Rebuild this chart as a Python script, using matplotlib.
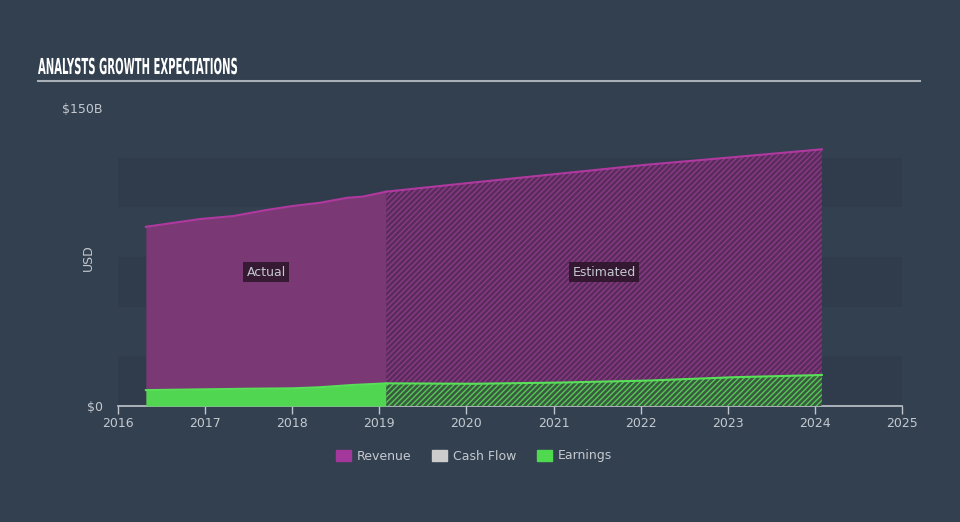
import matplotlib
matplotlib.use("Agg")
import matplotlib.pyplot as plt
from matplotlib.patches import Patch, PathPatch
from matplotlib.lines import Line2D
from matplotlib.textpath import TextPath
from matplotlib.font_manager import FontProperties
from matplotlib.transforms import Affine2D, IdentityTransform

# revenue, $B
rev_actual_x = [2016.32, 2016.94, 2017.32, 2017.71, 2018.01, 2018.32, 2018.63, 2018.81, 2019.08]
rev_actual_y = [90.2, 94.1, 95.6, 98.7, 100.7, 102.3, 104.8, 105.4, 107.9]
rev_est_x = [2019.08, 2020.08, 2021.08, 2022.08, 2023.08, 2024.08]
rev_est_y = [107.9, 112.5, 117.0, 121.5, 125.3, 129.2]

# earnings, $B
earn_actual_x = [2016.32, 2017.0, 2017.5, 2018.0, 2018.3, 2018.7, 2019.08]
earn_actual_y = [8.0, 8.4, 8.7, 8.9, 9.4, 10.6, 11.4]
earn_est_x = [2019.08, 2020.08, 2021.08, 2022.08, 2023.08, 2024.08]
earn_est_y = [11.4, 11.2, 11.8, 12.8, 14.5, 15.6]

years = list(range(2016, 2026))

bg = "#334050"
band = "#303c4b"
txt = "#c4c9cf"

plt.rcParams["hatch.linewidth"] = 1.0

fig = plt.figure(figsize=(9.6, 5.22), dpi=100, facecolor=bg)
ax = fig.add_axes([118 / 960, 1 - 406 / 522, 784 / 960, 298 / 522])
ax.set_facecolor(bg)
ax.set_xlim(2016, 2025)
ax.set_ylim(0, 150)

# alternating bands
for lo in (0, 50, 100):
    ax.axhspan(lo, lo + 25, color=band, zorder=0, lw=0)

# actual
ax.fill_between(rev_actual_x, 0, rev_actual_y, color="#7a3875", lw=0, zorder=2)
ax.plot(rev_actual_x, rev_actual_y, color="#b0399f", lw=1.5, zorder=4)
ax.fill_between(earn_actual_x, 0, earn_actual_y, color="#50d650", lw=0, zorder=3)
ax.plot(earn_actual_x, earn_actual_y, color="#58e058", lw=1.5, zorder=4)

# estimated (hatched)
ax.fill_between(rev_est_x, 0, rev_est_y, facecolor="#5a2c5c", edgecolor="#8a3a87",
                hatch="//////", lw=0, zorder=2)
ax.plot(rev_est_x, rev_est_y, color="#b0399f", lw=1.5, zorder=4)
ax.fill_between(earn_est_x, 0, earn_est_y, facecolor="#3a5a40", edgecolor="#55c855",
                hatch="//////", lw=0, zorder=3)
ax.plot(earn_est_x, earn_est_y, color="#58e058", lw=1.5, zorder=4)

box = dict(boxstyle="square,pad=0.3", fc="#2a1428", ec="none", alpha=0.85)
ax.text(2017.7, 67.4, "Actual", color=txt, fontsize=9, ha="center", va="center", bbox=box, zorder=6)
ax.text(2021.58, 67.4, "Estimated", color=txt, fontsize=9, ha="center", va="center", bbox=box, zorder=6)

for s in ("top", "right", "left"):
    ax.spines[s].set_visible(False)
ax.spines["bottom"].set_color("#c0c5cb")
ax.spines["bottom"].set_linewidth(1.2)
ax.set_xticks(years)
ax.set_xticklabels([str(y) for y in years])
ax.tick_params(axis="x", colors="#c0c5cb", labelcolor=txt, length=6, width=1, pad=2, labelsize=9)
ax.set_yticks([0, 150])
ax.set_yticklabels(["$0", "$150B"])
ax.tick_params(axis="y", length=0, pad=11, labelcolor=txt, labelsize=9)

fig.text(88 / 960, 1 - 258 / 522, "USD", rotation=90, color=txt, fontsize=9, ha="center", va="center")

# condensed title drawn as a squeezed text path
title = "ANALYSTS GROWTH EXPECTATIONS"
tp = TextPath((0, 0), title, size=22, prop=FontProperties(family="DejaVu Sans", weight="bold"))
tw = tp.get_extents().width
sx = 199 / tw
fig.add_artist(PathPatch(tp, transform=Affine2D().scale(sx, 1.0).translate(38, 522 - 74) + IdentityTransform(),
                         fc="white", ec="none"))
fig.add_artist(Line2D([38 / 960, 920 / 960], [1 - 81 / 522, 1 - 81 / 522], color="#aab0b8", lw=1.5))

handles = [Patch(color="#a3379b", label="Revenue"),
           Patch(color="#cccccc", label="Cash Flow"),
           Patch(color="#4fd94f", label="Earnings")]
leg = fig.legend(handles=handles, loc="center", bbox_to_anchor=(474 / 960, 1 - 456 / 522), ncol=3,
                 frameon=False, fontsize=9, handlelength=1.2, handleheight=1.0, columnspacing=1.6,
                 handletextpad=0.5)
for t in leg.get_texts():
    t.set_color(txt)

fig.savefig("out.png", dpi=100, facecolor=bg)
